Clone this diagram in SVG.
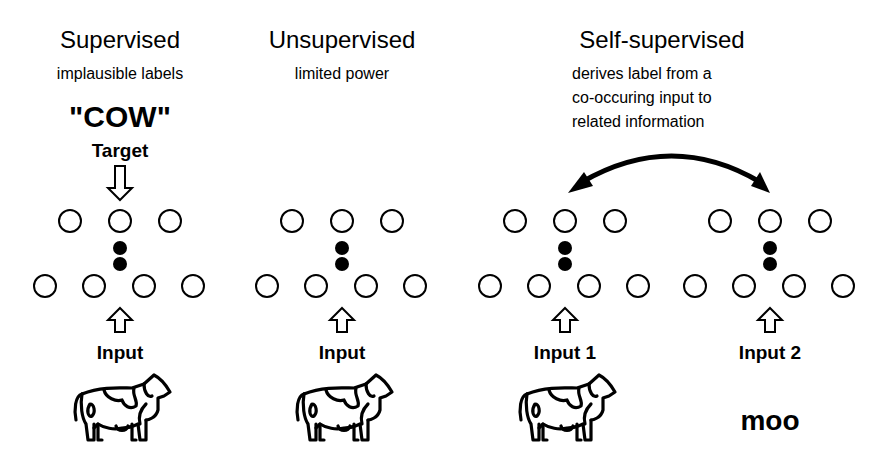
<svg xmlns="http://www.w3.org/2000/svg" width="894" height="468" viewBox="0 0 894 468">
<style>
.t{font-family:"Helvetica","Liberation Sans",Arial,sans-serif;fill:#000;text-anchor:middle}
.h{font-size:24px}.s{font-size:16px}.b{font-weight:bold;font-size:19px}
.n{fill:#fff;stroke:#000;stroke-width:2}
.d{fill:#000}
.ar{fill:#fff;stroke:#000;stroke-width:2;stroke-linejoin:miter}
.cow{fill:none;stroke:#000;stroke-width:3.2;stroke-linejoin:round;stroke-linecap:round}
</style>
<defs>
<g id="net">
<circle class="n" cx="-50" cy="221" r="11"/><circle class="n" cx="0" cy="221" r="11"/><circle class="n" cx="50" cy="221" r="11"/>
<circle class="d" cx="0" cy="248" r="7"/><circle class="d" cx="0" cy="264" r="7"/>
<circle class="n" cx="-75" cy="286" r="11"/><circle class="n" cx="-26" cy="286" r="11"/><circle class="n" cx="24" cy="286" r="11"/><circle class="n" cx="73" cy="286" r="11"/>
<polygon class="ar" points="0,308 12,320 5,320 5,332 -5,332 -5,320 -12,320"/>
</g>
<g id="cow" class="cow">
<path d="M-40,394 C-47,396 -48,410 -46,420"/>
<path d="M-40,394 C-20,386 0,388 10,388 L22,384"/>
<path d="M22,384 L32,375 C38,378 44,385 48,392 L42,396 L36,398 L36,410 C34,418 26,420 24,420"/>
<path d="M-40,394 C-42,405 -40,418 -36,424 L-34,440 L-28,440 L-28,428 L-24,424 C-18,428 -8,430 0,428 C6,428 12,426 16,424 L18,440 L24,440 L24,420"/>
<path d="M-28,428 L-28,424 M-24,424 L-24,440 L-20,440"/>
<path d="M10,424 L10,440 L14,440"/>
<path d="M-32,404 C-36,410 -34,418 -30,416 C-26,412 -28,404 -32,404 Z"/>
<path d="M-18,390 C-16,398 -6,402 0,400 C2,406 8,410 14,406 C16,400 10,396 12,388"/>
<path d="M22,384 C22,392 26,398 30,396"/>
<path d="M-6,426 C-4,432 4,432 6,426"/>
<path d="M24,404 C18,410 16,416 18,424"/>
</g>
</defs>
<g id="supervised">
<text class="t h" x="120" y="48">Supervised</text>
<text class="t s" x="120" y="79">implausible labels</text>
<text class="t" x="120" y="127" style="font-weight:bold;font-size:30px">"COW"</text>
<text class="t b" x="120" y="157">Target</text>
<polygon class="ar" points="120,200 132,188 125,188 125,166 115,166 115,188 108,188"/>
<use href="#net" x="120"/>
<text class="t b" x="120" y="359">Input</text>
<use href="#cow" x="122"/>
</g>
<g id="unsupervised">
<text class="t h" x="342" y="48">Unsupervised</text>
<text class="t s" x="342" y="79">limited power</text>
<use href="#net" x="342"/>
<text class="t b" x="342" y="359">Input</text>
<use href="#cow" x="344"/>
</g>
<g id="selfsupervised">
<text class="t h" x="662" y="48">Self-supervised</text>
<text class="t s" x="572" y="79" style="text-anchor:start">derives label from a</text>
<text class="t s" x="572" y="103" style="text-anchor:start">co-occuring input to</text>
<text class="t s" x="572" y="127" style="text-anchor:start">related information</text>
<use href="#net" x="565"/>
<text class="t b" x="565" y="359">Input 1</text>
<use href="#cow" x="567"/>
<use href="#net" x="770"/>
<text class="t b" x="770" y="359">Input 2</text>
<text class="t" x="770" y="430" style="font-weight:bold;font-size:28px">moo</text>
</g>
<g id="connectors">
<path d="M582,182 Q672,130 760,182" fill="none" stroke="#000" stroke-width="5"/>
<polygon points="568,193 584,172 593,186" fill="#000"/>
<polygon points="770,193 751,186 760,172" fill="#000"/>
</g>
</svg>
